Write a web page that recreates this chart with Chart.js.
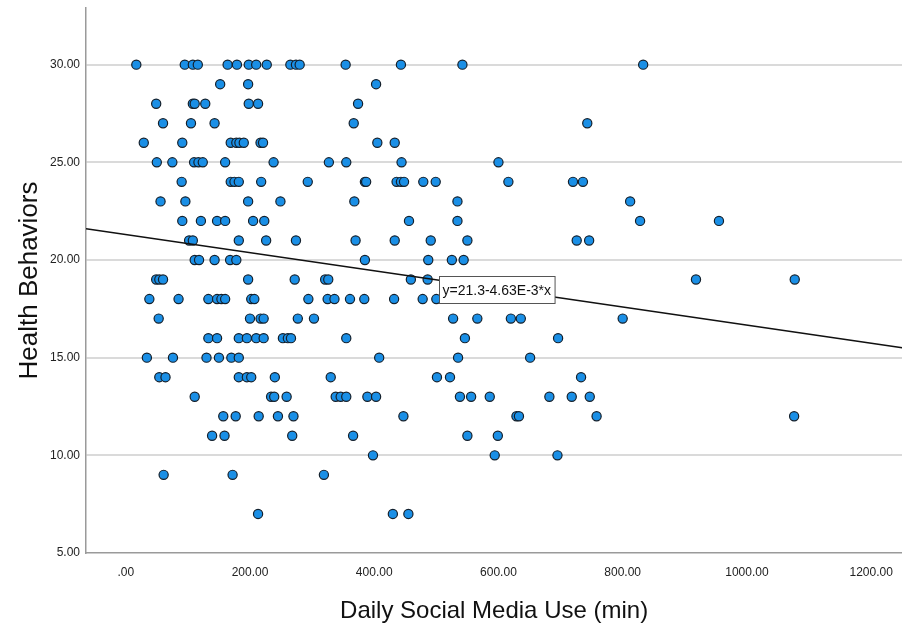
<!DOCTYPE html>
<html>
<head>
<meta charset="utf-8">
<title>Health Behaviors vs Daily Social Media Use</title>
<script src="https://cdn.jsdelivr.net/npm/chart.js@4/dist/chart.umd.min.js"></script>
<style>
  html, body { margin: 0; padding: 0; background: #fff; overflow: hidden; }
  /* canvas is a little wider than the frame so the plot meets the right edge */
  #wrap { width: 902px; height: 633px; overflow: hidden; }
  #scatter { display: block; }
</style>
</head>
<body>
<div id="wrap"><canvas id="scatter" width="908" height="633"></canvas></div>
<script>
// Daily social media use (minutes), grouped by health behaviour score
const useMin = [
  17, 95, 108, 116, 164, 179, 198, 210, 227, 265, 274, 280, 354, 443, 542, 833, // 30
  152, 197, 403,                                                               // 29
  49, 108, 111, 128, 198, 213, 374,                                            // 28
  60, 105, 143, 367, 743,                                                      // 27
  29, 91, 169, 178, 183, 190, 217, 221, 405, 433,                              // 26
  50, 75, 110, 117, 124, 160, 238, 327, 355, 444, 600,                         // 25
  90, 169, 175, 182, 218, 293, 385, 387, 436, 443, 448, 479, 499, 616, 720, 736, // 24
  56, 96, 197, 249, 368, 534, 812,                                             // 23
  91, 121, 147, 160, 205, 223, 456, 534, 828, 955,                             // 22
  102, 108, 182, 226, 274, 370, 433, 491, 550, 726, 746,                       // 21
  111, 118, 143, 168, 178, 385, 487, 525, 544,                                 // 20
  49, 54, 60, 197, 272, 321, 326, 459, 486, 918, 1077,                         // 19
  38, 85, 133, 147, 154, 160, 202, 207, 294, 325, 336, 361, 384, 432, 478, 500, // 18
  53, 200, 217, 222, 277, 303, 527, 566, 620, 636, 800,                        // 17
  133, 147, 182, 195, 210, 222, 253, 261, 266, 355, 546, 696,                  // 16
  34, 76, 130, 150, 170, 182, 408, 535, 651,                                   // 15
  54, 64, 182, 195, 202, 240, 330, 501, 522, 733,                              // 14
  111, 234, 239, 259, 338, 346, 355, 389, 403, 538, 556, 586, 682, 718, 747,   // 13
  157, 177, 214, 245, 270, 447, 629, 633, 758, 1076,                           // 12
  139, 159, 268, 366, 550, 599,                                                // 11
  398, 594, 695,                                                               // 10
  61, 172, 319,                                                                // 9
  213, 430, 455                                                                // 7
];

// how many respondents sit on each score row above
const scoreLevels = [30, 29, 28, 27, 26, 25, 24, 23, 22, 21, 20, 19, 18, 17, 16, 15, 14, 13, 12, 11, 10, 9, 7];
const rowCounts   = [16, 3, 7, 5, 10, 11, 16, 7, 10, 11, 9, 11, 16, 11, 12, 9, 10, 15, 10, 6, 3, 3, 3];

// fitted line y = a + b*x
const fitIntercept = 21.3;
const fitSlope = -4.63e-3;
const fitLabel = 'y=21.3-4.63E-3*x';

const xTickValues = [0, 200, 400, 600, 800, 1000, 1200];
const yTickValues = [5, 10, 15, 20, 25, 30];
const xRange = [-64, 1250];
const yRange = [5, 32.9];

const healthScore = [];
scoreLevels.forEach((s, i) => {
  for (let k = 0; k < rowCounts[i]; k++) healthScore.push(s);
});

const points = useMin.map((m, i) => ({ x: m, y: healthScore[i] }));
const fitAt = (x) => fitIntercept + fitSlope * x;
const fitPoints = xRange.map(x => ({ x: x, y: fitAt(x) }));

const fmt = (v) => (v === 0 ? '.00' : v.toFixed(2));

// boxed equation label sitting on the fit line
const fitLabelPlugin = {
  id: 'fitLabel',
  afterDatasetsDraw(chart, args, opts) {
    const { ctx, scales: { x, y } } = chart;
    const px = x.getPixelForValue(opts.atX);
    const py = y.getPixelForValue(fitAt(opts.atX));
    ctx.save();
    ctx.font = '14px "Liberation Sans", Arial, sans-serif';
    const w = ctx.measureText(fitLabel).width + 7;
    const h = 27;
    const left = Math.round(px) + 0.5;
    const top = Math.round(py - 4) + 0.5;
    ctx.fillStyle = '#fff';
    ctx.fillRect(left, top, w, h);
    ctx.strokeStyle = '#555';
    ctx.lineWidth = 1;
    ctx.strokeRect(left, top, w, h);
    ctx.fillStyle = '#111';
    ctx.textBaseline = 'middle';
    ctx.fillText(fitLabel, left + 3, top + h / 2 + 1);
    ctx.restore();
  }
};

const fontFamily = '"Liberation Sans", Arial, sans-serif';
const tickFont = { family: fontFamily, size: 12 };

new Chart(document.getElementById('scatter'), {
  type: 'scatter',
  data: {
    datasets: [
      {
        type: 'line',
        data: fitPoints,
        borderColor: '#111',
        borderWidth: 1.5,
        pointRadius: 0,
        fill: false,
        order: 1,
      },
      {
        data: points,
        backgroundColor: '#1a8fe6',
        borderColor: '#14202c',
        borderWidth: 1.2,
        pointRadius: 4.6,
        order: 2,
      },
    ],
  },
  options: {
    responsive: false,
    animation: false,
    devicePixelRatio: 1,
    layout: { padding: { top: 8, right: 0, bottom: 0, left: 0 } },
    plugins: {
      legend: { display: false },
      tooltip: { enabled: false },
      fitLabel: { atX: 504 },
    },
    scales: {
      x: {
        type: 'linear',
        min: xRange[0],
        max: xRange[1],
        afterBuildTicks: (s) => { s.ticks = xTickValues.map(v => ({ value: v })); },
        afterFit: (s) => { s.height = 80; s.paddingLeft = 0; s.paddingRight = 0; },
        grid: { display: false, drawTicks: false },
        border: { display: true, color: '#9a9a9a', width: 1.5 },
        ticks: { color: '#222', font: tickFont, padding: 12, maxRotation: 0, callback: fmt },
        title: {
          display: true,
          text: 'Daily Social Media Use (min)',
          color: '#111',
          font: { family: fontFamily, size: 24 },
          padding: { top: 0, bottom: 7 },
        },
      },
      y: {
        type: 'linear',
        min: yRange[0],
        max: yRange[1],
        afterBuildTicks: (s) => { s.ticks = yTickValues.map(v => ({ value: v })); },
        afterFit: (s) => { s.width = 86; s.paddingTop = 0; s.paddingBottom = 0; },
        grid: {
          drawTicks: false,
          lineWidth: 2,
          color: (c) => (c.tick && c.tick.value === 5 ? 'rgba(0,0,0,0)' : '#dadada'),
        },
        border: { display: true, color: '#9a9a9a', width: 1.5 },
        ticks: { color: '#222', font: tickFont, padding: 6, callback: fmt },
        title: {
          display: true,
          text: 'Health Behaviors',
          color: '#111',
          font: { family: fontFamily, size: 26 },
          padding: { top: 14, bottom: 0 },
        },
      },
    },
  },
  plugins: [fitLabelPlugin],
});
</script>
</body>
</html>
